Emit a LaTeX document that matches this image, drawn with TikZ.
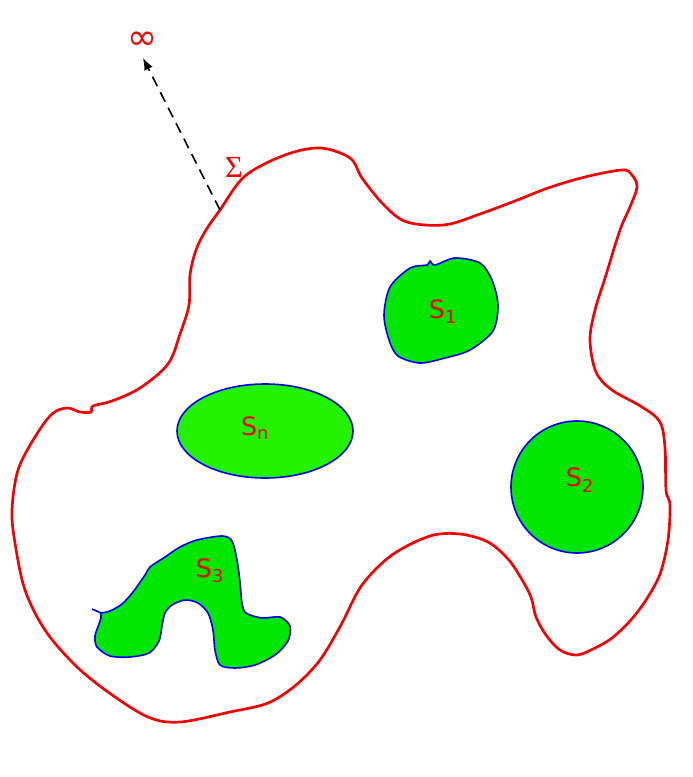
\documentclass[tikz,border=0pt]{standalone}
\usepackage{fontspec}
\setmainfont{DejaVu Sans}
\newfontfamily\sigfont{Liberation Serif}
\usetikzlibrary{arrows.meta}
\definecolor{gA}{RGB}{0,230,0}
\definecolor{gB}{RGB}{34,242,0}
\definecolor{rr}{RGB}{240,0,0}
\definecolor{bb}{RGB}{0,0,235}
\tikzset{
  sigline/.style={draw=rr,line width=2pt},
  blob/.style={draw=bb,line width=1.2pt,fill=gA},
  lab/.style={text=rr,font=\fontsize{19}{21}\selectfont,inner sep=0pt}
}
\begin{document}
\begin{tikzpicture}[x=0.75pt,y=-0.75pt]
\useasboundingbox (0,0) rectangle (692,777);
% Sigma surface
\draw[sigline] plot[smooth cycle,tension=0.55] coordinates {
(220,210) (245,176) (285,155) (320,148) (350,158) (362,178) (382,203) (402,220) (425,225) (450,224) (480,214) (515,201) (548,188) (585,177) (622,170) (632,175) (637,187) (630,207) (620,230) (606,275) (595,310) (590,340) (596,372) (612,390) (642,407) (660,422) (665,448) (666,490) (670,505) (668,540) (660,574) (646,600) (630,621) (612,638) (595,648) (577,655) (560,650) (546,635) (536,617) (531,597) (521,578) (508,559) (488,542) (460,534) (430,536) (392,555) (362,585) (341,625) (320,660) (296,685) (268,703) (230,712) (180,722) (148,717) (108,692) (75,665) (45,630) (25,590) (15,543) (12,510) (18,470) (35,437) (52,414) (67,408) (80,412) (91,412) (93,406) (112,401) (140,388) (168,364) (180,334) (189,305) (190,275) (196,250) (206,230)};
% S1
\draw[blob] plot[smooth cycle,tension=0.5] coordinates {
(430,261) (435,265) (455,258) (480,263) (492,280) (498,305) (493,331) (470,350) (445,358) (420,363) (398,356) (389,340) (384,315) (390,287) (410,268) (427,265)};
% S2
\draw[blob] (577,487) circle [radius=66];
% Sn
\draw[blob,fill=gB] (265,431) ellipse [x radius=88,y radius=47];
% S3
\draw[blob] (92,609) -- (101,613) plot[smooth,tension=0.5] coordinates {
(101,613) (110,611) (122,604) (133,592) (145,575) (150,567) (165,557) (180,547) (197,540) (222,536) (232,541) (237,560) (240,582) (242,603) (246,613) (262,618) (280,617) (290,626) (288,641) (275,655) (255,665) (235,668) (220,665) (215,650) (213,630) (208,613) (198,603) (185,600) (172,605) (165,613) (162,626) (159,641) (149,653) (130,657) (110,656) (97,647) (95,636) (99,624) (101,618)} -- cycle;
% labels
\node[lab] (s1) at (443,312) {S\textsubscript{1}};
\node[lab] (s2) at (580,480) {S\textsubscript{2}};
\node[lab] (sn) at (255,428) {S\textsubscript{n}};
\node[lab] (s3) at (210,571) {S\textsubscript{3}};
\node[text=rr,inner sep=0pt,font=\fontsize{27}{27}\selectfont] (inf) at (142,41) {∞};
\node[text=rr,inner sep=0pt,font=\sigfont\fontsize{23}{23}\selectfont] (sig) at (234,167) {Σ};
\coordinate (start) at (220,210);
\coordinate (tip) at (143,58);
\draw[dashed,line width=1.2pt,dash pattern=on 8pt off 5pt,-{Latex[length=9pt,width=7pt]}] (start) -- (tip);
\end{tikzpicture}
\end{document}
